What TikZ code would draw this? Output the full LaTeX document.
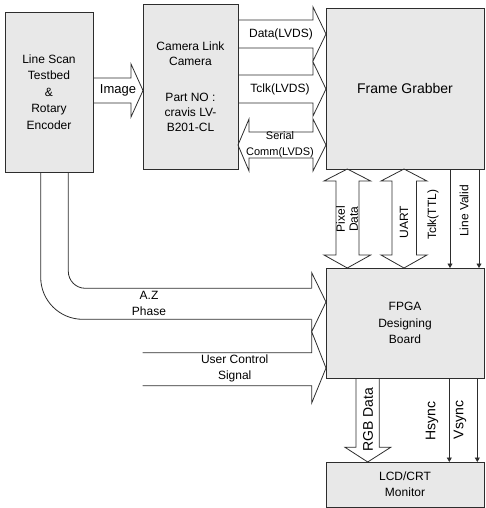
\documentclass[tikz,border=0pt]{standalone}
\usepackage{fontspec}
\setmainfont{Liberation Sans}
\usetikzlibrary{arrows.meta,positioning,calc}
\definecolor{boxgray}{RGB}{232,232,232}
\definecolor{edgegray}{RGB}{45,45,45}
\tikzset{
  hwbox/.style={draw=edgegray, fill=boxgray, line width=0.8pt, inner sep=0pt, outer sep=0pt, align=center, font=\fontsize{12}{16.5}\selectfont},
  blkarrow/.style={draw=edgegray, line width=0.8pt, line join=miter},
  sigline/.style={draw=edgegray, line width=0.8pt, -{Triangle[length=4.5pt,width=5pt]}},
  sglabel/.style={font=\fontsize{12}{16}\selectfont, inner sep=0pt, align=center},
  vlabel/.style={sglabel, rotate=90},
}
\begin{document}
\begin{tikzpicture}[x=1pt, y=-1pt]
  \useasboundingbox (0,0) rectangle (485,508);

  % boxes
  \node[hwbox, minimum width=88pt, minimum height=160pt] (scan) at (49,92) {Line Scan\\Testbed\\\&\\Rotary\\Encoder};
  \node[hwbox, minimum width=95pt, minimum height=165pt, font=\fontsize{12}{15}\selectfont] (cam) at (190.5,86.5) {Camera Link\\Camera\\[21pt]Part NO :\\cravis LV-\\B201-CL};
  \node[hwbox, minimum width=158pt, minimum height=161pt, font=\fontsize{14}{16}\selectfont] (fg) at (405,88.5) {Frame Grabber};
  \node[hwbox, minimum width=158pt, minimum height=110pt, below=99pt of fg] (fpga) {FPGA\\Designing\\Board};
  \node[hwbox, minimum width=158pt, minimum height=45pt, below=84pt of fpga, font=\fontsize{12}{16}\selectfont] (mon) {LCD/CRT\\Monitor};

  % block arrows
  \draw[blkarrow] (scan.east |- 0,78) -- (131,78) -- (131,64) -- (cam.west |- 0,90.5) -- (131,117) -- (131,103) -- (scan.east |- 0,103);
  \draw[blkarrow] (cam.east |- 0,20) -- (313,20) -- (313,7) -- (fg.west |- 0,34) -- (313,61) -- (313,48) -- (cam.east |- 0,48);
  \draw[blkarrow] (cam.east |- 0,75) -- (313,75) -- (313,62) -- (fg.west |- 0,89) -- (313,116) -- (313,103) -- (cam.east |- 0,103);
  \draw[blkarrow] (249,132) -- (313,132) -- (313,119) -- (fg.west |- 0,145) -- (313,171) -- (313,158) -- (249,158) -- (249,171) -- (cam.east |- 0,145) -- (249,119) -- cycle;
  \draw[blkarrow] (336,181) -- (336,255) -- (324,255) -- (fpga.north -| 347.3,0) -- (370.7,255) -- (359,255) -- (359,181) -- (370.7,181) -- (fg.south -| 347.3,0) -- (324,181) -- cycle;
  \draw[blkarrow] (392,181) -- (392,255) -- (381,255) -- (fpga.north -| 404,0) -- (427,255) -- (416.5,255) -- (416.5,181) -- (427,181) -- (fg.south -| 404,0) -- (381,181) -- cycle;
  \draw[blkarrow, rounded corners=42pt] (scan.south -| 40.7,0) |- (311.7,319.3);
  \draw[blkarrow, rounded corners=17pt] (scan.south -| 68.3,0) |- (311.7,288.3);
  \draw[blkarrow] (311.7,288.3) -- (311.7,272.7) -- (fpga.west |- 0,302) -- (311.7,331.7) -- (311.7,319.3);
  \draw[blkarrow] (142.7,352.7) -- (311.7,352.7) -- (311.7,331.7) -- (fpga.west |- 0,368) -- (311.7,403) -- (311.7,385.7) -- (142.7,385.7);
  \draw[blkarrow] (fpga.south -| 356,0) -- (356,447.3) -- (345,447.3) -- (mon.north -| 367.7,0) -- (390.7,447.3) -- (379.3,447.3) -- (fpga.south -| 379.3,0);

  % signal lines
  \draw[sigline] (fg.south -| 450,0) -- (fpga.north -| 450,0);
  \draw[sigline] (fg.south -| 479,0) -- (fpga.north -| 479,0);
  \draw[sigline] (fpga.south -| 449.3,0) -- (mon.north -| 449.3,0);
  \draw[sigline] (fpga.south -| 477.3,0) -- (mon.north -| 477.3,0);

  % labels
  \node[sglabel, font=\fontsize{13}{15}\selectfont] (imglbl) at (118,90.5) {Image};
  \node[sglabel] (datalbl) at (281,34) {Data(LVDS)};
  \node[sglabel] (tclklbl) at (280,89) {Tclk(LVDS)};
  \node[sglabel, font=\fontsize{11}{16}\selectfont] (seriallbl) at (280,145) {Serial\\Comm(LVDS)};
  \node[sglabel] (azlbl) at (149,303) {A.Z\\Phase};
  \node[sglabel] (userlbl) at (234.7,368.7) {User Control\\Signal};
  \node[vlabel, font=\fontsize{12}{13}\selectfont] (pixlbl) at (347,219) {Pixel\\Data};
  \node[vlabel] (uartlbl) at (404,222) {UART};
  \node[vlabel] (ttllbl) at (433,215) {Tclk(TTL)};
  \node[vlabel] (lvlbl) at (464,211) {Line Valid};
  \node[vlabel, font=\fontsize{14}{16}\selectfont] (rgblbl) at (368,420) {RGB Data};
  \node[vlabel, font=\fontsize{14}{16}\selectfont] (hslbl) at (432,421) {Hsync};
  \node[vlabel, font=\fontsize{14}{16}\selectfont] (vslbl) at (460,420) {Vsync};
\end{tikzpicture}
\end{document}
